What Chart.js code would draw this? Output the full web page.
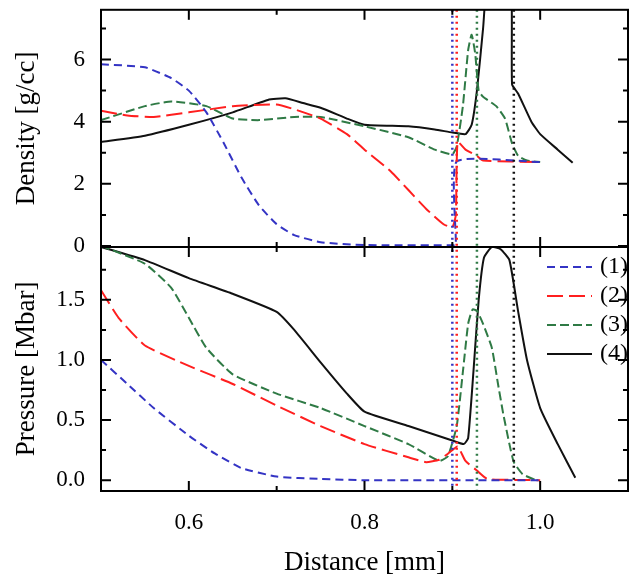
<!DOCTYPE html>
<html>
<head>
<meta charset="utf-8">
<script src="https://cdn.jsdelivr.net/npm/chart.js@4"></script>
<style>
  html, body { margin: 0; padding: 0; background: #fff; overflow: hidden; }
  #wrap { width: 642px; height: 595px; margin-top: -12px; }
</style>
</head>
<body>
<div id="wrap"><canvas id="c"></canvas></div>
<script>
// Density panel, [distance mm, g/cc]
const density1 = [[0.5,5.85],[0.55,5.75],[0.58,5.4],[0.6,5.0],[0.62,4.3],[0.64,3.3],[0.66,2.2],[0.68,1.3],[0.7,0.7],[0.72,0.35],[0.75,0.12],[0.8,0.03],[0.9,0.02],[0.904,0.02],[0.905,2.72],[1.0,2.7]];
const density2 = [[0.5,4.35],[0.53,4.2],[0.56,4.15],[0.6,4.3],[0.65,4.5],[0.7,4.55],[0.72,4.4],[0.75,4.1],[0.78,3.6],[0.8,3.1],[0.83,2.4],[0.85,1.8],[0.87,1.2],[0.89,0.7],[0.9,0.6],[0.904,1.0],[0.906,3.35],[0.915,3.1],[0.928,2.9],[0.935,2.75],[1.0,2.7]];
const density3 = [[0.5,4.05],[0.55,4.5],[0.58,4.65],[0.62,4.5],[0.65,4.1],[0.68,4.05],[0.72,4.15],[0.75,4.15],[0.8,3.85],[0.85,3.5],[0.88,3.1],[0.9,2.95],[0.905,3.2],[0.912,4.5],[0.918,6.3],[0.922,6.8],[0.926,6.2],[0.93,5.0],[0.935,4.8],[0.95,4.5],[0.96,4.1],[0.968,3.3],[0.975,2.9],[0.985,2.75],[1.0,2.7]];
const density4 = [[0.5,3.35],[0.55,3.55],[0.6,3.9],[0.65,4.3],[0.69,4.7],[0.71,4.75],[0.73,4.6],[0.75,4.45],[0.78,4.1],[0.8,3.9],[0.85,3.85],[0.88,3.75],[0.9,3.65],[0.915,3.6],[0.922,3.9],[0.928,5.0],[0.935,7.0],[0.942,9.0],[0.966,9.0],[0.968,5.2],[0.975,4.9],[0.99,4.0],[1.0,3.6],[1.02,3.1],[1.037,2.68]];

// Pressure panel, [distance mm, Mbar]
const pressure1 = [[0.5,1.0],[0.53,0.8],[0.56,0.6],[0.6,0.37],[0.63,0.22],[0.66,0.1],[0.7,0.03],[0.75,0.01],[0.8,0.0],[1.0,0.0]];
const pressure2 = [[0.5,1.58],[0.52,1.35],[0.55,1.12],[0.6,0.95],[0.65,0.8],[0.7,0.62],[0.75,0.45],[0.8,0.3],[0.85,0.19],[0.87,0.15],[0.885,0.17],[0.895,0.22],[0.906,0.28],[0.915,0.16],[0.928,0.08],[0.94,0.01],[1.0,0.0]];
const pressure3 = [[0.5,1.95],[0.55,1.8],[0.58,1.6],[0.6,1.35],[0.62,1.1],[0.65,0.88],[0.7,0.72],[0.75,0.6],[0.8,0.45],[0.85,0.3],[0.885,0.16],[0.895,0.2],[0.905,0.45],[0.912,0.9],[0.918,1.3],[0.923,1.42],[0.928,1.41],[0.935,1.3],[0.945,1.1],[0.952,0.8],[0.958,0.55],[0.965,0.3],[0.97,0.15],[0.98,0.05],[0.995,0.0]];
const pressure4 = [[0.5,1.94],[0.55,1.83],[0.6,1.68],[0.65,1.55],[0.7,1.4],[0.72,1.25],[0.75,0.98],[0.78,0.72],[0.8,0.57],[0.85,0.45],[0.9,0.33],[0.913,0.3],[0.918,0.35],[0.924,0.9],[0.93,1.5],[0.936,1.85],[0.945,1.94],[0.955,1.92],[0.965,1.83],[0.975,1.4],[0.985,1.0],[1.0,0.6],[1.02,0.3],[1.04,0.02]];

const seriesNames = ['(1)', '(2)', '(3)', '(4)'];
const seriesColors = ['#3434c4', '#ff1f1f', '#2f7a45', '#111111'];
const seriesDash = [[8, 5], [16, 6], [9, 4], []];
const shockFronts = [0.9, 0.905, 0.928, 0.97];

const xTicks = [0.6, 0.8, 1.0];
const xMinor = [0.7, 0.9];
const densityTicks = [0, 2, 4, 6];
const densityMinor = [1, 3, 5, 7];
const pressureTicks = [0, 0.5, 1.0, 1.5];
const pressureMinor = [0.25, 0.75, 1.25, 1.75];

const serif = 'Liberation Serif, DejaVu Serif, serif';
const toXY = arr => arr.map(p => ({ x: p[0], y: p[1] }));

function line(data, i, axis) {
  return {
    label: seriesNames[i], data: toXY(data), yAxisID: axis,
    borderColor: seriesColors[i], borderDash: seriesDash[i],
    borderWidth: 2, pointRadius: 0, tension: 0.15, fill: false,
  };
}

const datasets = [
  line(density1, 0, 'yd'), line(density2, 1, 'yd'), line(density3, 2, 'yd'), line(density4, 3, 'yd'),
  line(pressure1, 0, 'yp'), line(pressure2, 1, 'yp'), line(pressure3, 2, 'yp'), line(pressure4, 3, 'yp'),
];

const setTicks = vals => scale => { scale.ticks = vals.map(v => ({ value: v })); };

// frame, inward ticks, shock lines, legend, y titles
const framePlugin = {
  id: 'frame',
  afterDatasetsDraw(chart) {
    const { ctx, chartArea: a, scales } = chart;
    const x = scales.x, yd = scales.yd, yp = scales.yp;
    const mid = yd.bottom;
    ctx.save();

    shockFronts.forEach((v, i) => {
      const px = x.getPixelForValue(v);
      ctx.strokeStyle = seriesColors[i];
      ctx.lineWidth = 2.5;
      ctx.setLineDash([2, 4]);
      ctx.beginPath(); ctx.moveTo(px, a.top); ctx.lineTo(px, a.bottom); ctx.stroke();
    });
    ctx.setLineDash([]);

    ctx.strokeStyle = '#000';
    ctx.lineWidth = 2;
    ctx.strokeRect(a.left, a.top, a.right - a.left, a.bottom - a.top);
    ctx.beginPath(); ctx.moveTo(a.left, mid); ctx.lineTo(a.right, mid); ctx.stroke();

    const vTick = (vals, len) => vals.forEach(v => {
      const px = x.getPixelForValue(v);
      [a.top, mid, a.bottom].forEach((yy, k) => {
        ctx.beginPath();
        if (k !== 0) { ctx.moveTo(px, yy); ctx.lineTo(px, yy - len); }
        if (k !== 2) { ctx.moveTo(px, yy); ctx.lineTo(px, yy + len); }
        ctx.stroke();
      });
    });
    vTick(xTicks, 10); vTick(xMinor, 5);
    const hTick = (scale, vals, len) => vals.forEach(v => {
      const py = scale.getPixelForValue(v);
      ctx.beginPath();
      ctx.moveTo(a.left, py); ctx.lineTo(a.left + len, py);
      ctx.moveTo(a.right, py); ctx.lineTo(a.right - len, py);
      ctx.stroke();
    });
    hTick(yd, densityTicks, 10); hTick(yd, densityMinor, 5);
    hTick(yp, pressureTicks, 10); hTick(yp, pressureMinor, 5);

    // legend
    ctx.font = '24px ' + serif;
    ctx.textBaseline = 'middle';
    seriesNames.forEach((n, i) => {
      const yy = yp.top + 20 + i * 29;
      ctx.fillStyle = '#fff';
      ctx.fillRect(543, yy - 12, 72, 24);
      ctx.strokeStyle = seriesColors[i];
      ctx.lineWidth = 2;
      ctx.setLineDash(seriesDash[i]);
      ctx.beginPath(); ctx.moveTo(547, yy); ctx.lineTo(592, yy); ctx.stroke();
      ctx.setLineDash([]);
      ctx.fillStyle = '#000';
      ctx.fillText(n, 600, yy);
    });

    // y titles
    ctx.font = '27px ' + serif;
    ctx.textAlign = 'center';
    ctx.fillStyle = '#000';
    [[yd, 'Density [g/cc]'], [yp, 'Pressure [Mbar]']].forEach(([s, t]) => {
      ctx.save();
      ctx.translate(27, (s.top + s.bottom) / 2);
      ctx.rotate(-Math.PI / 2);
      ctx.fillText(t, 0, 0);
      ctx.restore();
    });
    ctx.restore();
  }
};

const tickFont = { family: serif, size: 23 };

new Chart(document.getElementById('c'), {
  type: 'line',
  data: { datasets },
  plugins: [framePlugin],
  options: {
    responsive: true,
    maintainAspectRatio: false,
    animation: false,
    layout: { padding: { top: 0, right: 14, left: 0, bottom: 0 } },
    plugins: { legend: { display: false }, tooltip: { enabled: false } },
    scales: {
      x: {
        type: 'linear', min: 0.5, max: 1.1,
        afterBuildTicks: setTicks(xTicks),
        afterFit: s => { s.height = 92; },
        grid: { display: false }, border: { display: false },
        ticks: { color: '#000', font: tickFont, padding: 10, callback: v => v.toFixed(1) },
        title: { display: true, text: 'Distance [mm]', color: '#000', font: { family: serif, size: 27 }, padding: { top: 0 } },
      },
      yp: {
        type: 'linear', position: 'left', stack: 'panels', stackWeight: 245,
        min: -0.09, max: 1.94,
        afterBuildTicks: setTicks(pressureTicks),
        afterFit: s => { s.width = 101; },
        grid: { display: false }, border: { display: false },
        ticks: { color: '#000', font: tickFont, padding: 8, callback: v => v.toFixed(1) },
      },
      yd: {
        type: 'linear', position: 'left', stack: 'panels', stackWeight: 238,
        min: -0.03, max: 7.6,
        afterBuildTicks: setTicks(densityTicks),
        afterFit: s => { s.width = 101; },
        grid: { display: false }, border: { display: false },
        ticks: { color: '#000', font: tickFont, padding: 8 },
      },
    },
  },
});
</script>
</body>
</html>
